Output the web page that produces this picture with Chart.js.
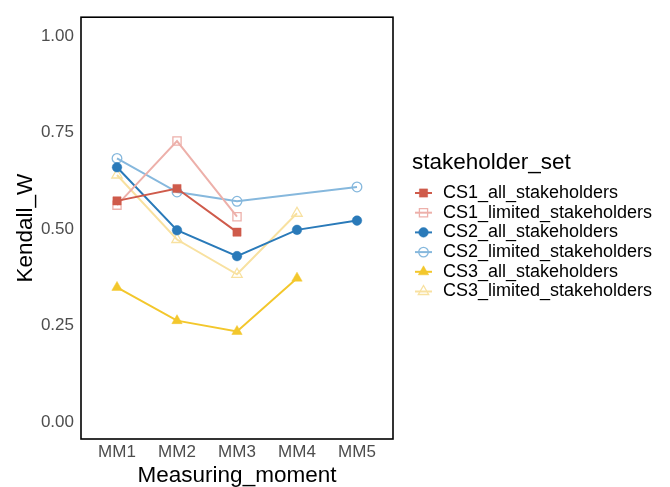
<!DOCTYPE html>
<html>
<head>
<meta charset="utf-8">
<script src="https://cdn.jsdelivr.net/npm/chart.js@4/dist/chart.umd.min.js"></script>
<style>
  html, body { margin: 0; padding: 0; background: #ffffff; }
  #wrap { position: relative; width: 670px; height: 487px; }
</style>
</head>
<body>
<div id="wrap"><canvas id="c" width="670" height="487"></canvas></div>
<script>
// ---- data ----
const categories = ["MM1", "MM2", "MM3", "MM4", "MM5"];
const yTicks = [0, 0.25, 0.5, 0.75, 1.0];
const seriesNames = [
  "CS1_all_stakeholders", "CS1_limited_stakeholders",
  "CS2_all_stakeholders", "CS2_limited_stakeholders",
  "CS3_all_stakeholders", "CS3_limited_stakeholders"
];
const cs1All     = [0.573, 0.605, 0.492, null, null];
const cs1Limited = [0.562, 0.728, 0.532, null, null];
const cs2All     = [0.660, 0.497, 0.430, 0.498, 0.522];
const cs2Limited = [0.683, 0.596, 0.572, null, 0.609];
const cs3All     = [0.349, 0.263, 0.235, 0.373, null];
const cs3Limited = [0.640, 0.473, 0.383, 0.541, null];
const seriesValues = [cs1All, cs1Limited, cs2All, cs2Limited, cs3All, cs3Limited];

// ---- styles ----
const colors = ["#CF5B4B", "#EDB0AA", "#2A7AB9", "#86B8DD", "#F3C72C", "#F8E1A0"];
const shapes = ["rect", "rect", "circle", "circle", "triangle", "triangle"];
const filled = [true, false, true, false, true, false];
const radii  = [5.8, 5.8, 4.8, 4.8, 6, 6];
const FONT = "'Liberation Sans', Arial, sans-serif";

const datasets = seriesNames.map((name, i) => ({
  label: name,
  data: seriesValues[i].map((v, j) => v === null ? null : { x: j + 1, y: v }).filter(p => p !== null),
  borderColor: colors[i],
  backgroundColor: colors[i],
  borderWidth: 2,
  pointStyle: shapes[i],
  pointRadius: radii[i],
  pointHoverRadius: radii[i],
  pointBackgroundColor: filled[i] ? colors[i] : "rgba(0,0,0,0)",
  pointBorderColor: colors[i],
  pointBorderWidth: filled[i] ? 0.5 : 1.3,
  showLine: true,
  tension: 0,
  fill: false
}));

const frameAndLegend = {
  id: "frameAndLegend",
  afterDraw(chart) {
    const ctx = chart.ctx;
    const a = chart.chartArea;
    ctx.save();
    ctx.strokeStyle = "#000000";
    ctx.lineWidth = 1.6;
    ctx.strokeRect(a.left, a.top, a.right - a.left, a.bottom - a.top);
    // legend
    ctx.fillStyle = "#000000";
    ctx.textBaseline = "middle";
    ctx.textAlign = "left";
    ctx.font = "22.5px " + FONT;
    ctx.fillText("stakeholder_set", 412, 163);
    const y0 = 193, dy = 19.7;
    seriesNames.forEach((name, i) => {
      const y = y0 + i * dy;
      ctx.strokeStyle = colors[i];
      ctx.lineWidth = 2;
      ctx.beginPath();
      ctx.moveTo(415, y);
      ctx.lineTo(432, y);
      ctx.stroke();
      ctx.fillStyle = filled[i] ? colors[i] : "rgba(0,0,0,0)";
      ctx.strokeStyle = colors[i];
      ctx.lineWidth = filled[i] ? 0.5 : 1.3;
      Chart.helpers.drawPoint(ctx, {
        pointStyle: shapes[i], radius: radii[i], rotation: 0,
        borderWidth: filled[i] ? 0.5 : 1.3
      }, 423.5, y);
      ctx.fillStyle = "#000000";
      ctx.font = "18px " + FONT;
      ctx.fillText(name, 443, y);
    });
    ctx.restore();
  }
};

new Chart(document.getElementById("c"), {
  type: "scatter",
  data: { datasets },
  options: {
    responsive: false,
    animation: false,
    layout: { padding: { left: 0, right: 277, top: 11, bottom: 0 } },
    plugins: { legend: { display: false }, tooltip: { enabled: false } },
    scales: {
      x: {
        type: "linear",
        min: 0.4, max: 5.6,
        afterBuildTicks(scale) { scale.ticks = categories.map((c, i) => ({ value: i + 1 })); },
        afterFit(scale) { scale.height = 48; },
        ticks: {
          callback: (v) => categories[v - 1],
          color: "#4D4D4D",
          font: { family: FONT, size: 17 },
          padding: 3.5,
          maxRotation: 0, autoSkip: false
        },
        grid: { display: false, drawTicks: false },
        border: { display: false },
        title: {
          display: true, text: "Measuring_moment", color: "#000000",
          font: { family: FONT, size: 22.5 }, padding: { top: 0, bottom: -2 }
        }
      },
      y: {
        type: "linear",
        min: -0.0434, max: 1.0485,
        afterBuildTicks(scale) { scale.ticks = yTicks.map(v => ({ value: v })); },
        afterFit(scale) { scale.width = 81; },
        ticks: {
          callback: (v) => v.toFixed(2),
          color: "#4D4D4D",
          font: { family: FONT, size: 17 },
          padding: 7
        },
        grid: { display: false, drawTicks: false },
        border: { display: false },
        title: {
          display: true, text: "Kendall_W", color: "#000000",
          font: { family: FONT, size: 22.5 }, padding: { top: 12, bottom: 0 }
        }
      }
    }
  },
  plugins: [frameAndLegend]
});
</script>
</body>
</html>
